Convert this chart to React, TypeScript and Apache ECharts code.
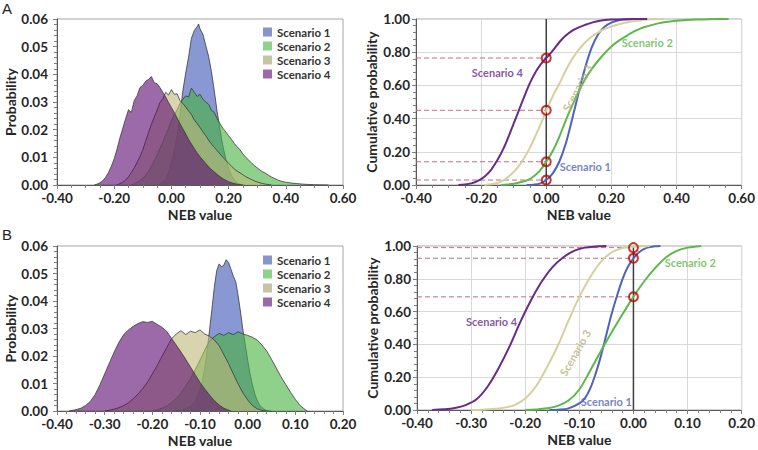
import React, { useEffect, useRef } from "react";
import * as echarts from "echarts";

const FONT = 'Lato, "Open Sans", "DejaVu Sans", sans-serif';
const scenarioNames = ["Scenario 1", "Scenario 2", "Scenario 3", "Scenario 4"];
const fillColors = ["rgba(58,84,180,0.6)", "rgba(68,178,60,0.6)", "rgba(188,183,120,0.6)", "rgba(90,7,110,0.6)"];
const legendColors = ["#8795c9", "#8fd18a", "#c6c3a7", "#9c6aa8"];
const lineColors = ["#4f63b8", "#5cb84a", "#d5d09c", "#6a2a86"];

// ---------- Panel A : probability (NEB value, probability) ----------
const aDens1: number[][] = [[-0.05,0],[-0.04,0.0004],[-0.03,0.0012],[-0.02,0.0022],[-0.01,0.0045],[0,0.008],[0.01,0.012],[0.02,0.0175],[0.03,0.025],[0.04,0.034],[0.05,0.0405],[0.06,0.0462],[0.07,0.053],[0.08,0.0558],[0.09,0.0572],[0.095,0.0582],[0.10,0.0565],[0.11,0.0545],[0.12,0.0505],[0.13,0.0465],[0.14,0.041],[0.15,0.034],[0.16,0.0265],[0.17,0.02],[0.18,0.014],[0.19,0.0095],[0.20,0.006],[0.21,0.0035],[0.22,0.0018],[0.23,0.0008],[0.24,0.0003],[0.26,0]];
const aDens2: number[][] = [[-0.14,0],[-0.13,0.0004],[-0.12,0.001],[-0.11,0.0016],[-0.10,0.0024],[-0.09,0.0035],[-0.08,0.005],[-0.07,0.0068],[-0.06,0.0088],[-0.05,0.0108],[-0.04,0.0132],[-0.03,0.0155],[-0.02,0.0182],[-0.01,0.0205],[0,0.0232],[0.01,0.0255],[0.02,0.0272],[0.03,0.0295],[0.04,0.031],[0.05,0.0322],[0.06,0.0318],[0.07,0.035],[0.08,0.0335],[0.09,0.032],[0.10,0.0328],[0.11,0.031],[0.12,0.03],[0.13,0.0292],[0.14,0.027],[0.15,0.0262],[0.16,0.024],[0.17,0.0222],[0.18,0.0205],[0.19,0.0192],[0.20,0.0178],[0.21,0.0165],[0.22,0.015],[0.23,0.0138],[0.24,0.0127],[0.25,0.0112],[0.26,0.01],[0.27,0.009],[0.28,0.008],[0.29,0.007],[0.30,0.0062],[0.31,0.0054],[0.32,0.0047],[0.33,0.0042],[0.34,0.0035],[0.35,0.0029],[0.36,0.0024],[0.37,0.0019],[0.38,0.0015],[0.39,0.0012],[0.40,0.001],[0.42,0.0007],[0.44,0.0005],[0.46,0.0003],[0.48,0.0002],[0.50,0.0001],[0.55,0]];
const aDens3: number[][] = [[-0.19,0],[-0.18,0.0005],[-0.17,0.001],[-0.16,0.0018],[-0.15,0.003],[-0.14,0.0045],[-0.13,0.0062],[-0.12,0.0082],[-0.11,0.0102],[-0.10,0.0128],[-0.09,0.0158],[-0.08,0.019],[-0.07,0.022],[-0.06,0.0245],[-0.05,0.027],[-0.04,0.0298],[-0.03,0.0312],[-0.02,0.0335],[-0.01,0.0325],[0,0.0345],[0.01,0.0328],[0.02,0.033],[0.03,0.0305],[0.04,0.0295],[0.05,0.0282],[0.06,0.0268],[0.07,0.0255],[0.08,0.0235],[0.09,0.0222],[0.10,0.0208],[0.11,0.0192],[0.12,0.0178],[0.13,0.0162],[0.14,0.0148],[0.15,0.0136],[0.16,0.0124],[0.17,0.0112],[0.18,0.01],[0.19,0.009],[0.20,0.0078],[0.21,0.0068],[0.22,0.0058],[0.23,0.005],[0.24,0.0044],[0.25,0.0037],[0.26,0.003],[0.27,0.0025],[0.28,0.002],[0.29,0.0015],[0.30,0.0011],[0.31,0.0008],[0.32,0.0005],[0.33,0.0003],[0.35,0]];
const aDens4: number[][] = [[-0.27,0],[-0.26,0.0003],[-0.25,0.0008],[-0.24,0.0015],[-0.23,0.0028],[-0.22,0.0045],[-0.21,0.0068],[-0.20,0.0095],[-0.19,0.013],[-0.18,0.017],[-0.17,0.0205],[-0.16,0.024],[-0.15,0.0272],[-0.14,0.0262],[-0.13,0.0305],[-0.12,0.0322],[-0.11,0.0352],[-0.10,0.036],[-0.09,0.0375],[-0.08,0.0382],[-0.07,0.0392],[-0.06,0.037],[-0.05,0.0366],[-0.04,0.0352],[-0.03,0.0335],[-0.02,0.0318],[-0.01,0.0298],[0,0.028],[0.01,0.0262],[0.02,0.0242],[0.03,0.0222],[0.04,0.0203],[0.05,0.0185],[0.06,0.0165],[0.07,0.0148],[0.08,0.0132],[0.09,0.0116],[0.10,0.0102],[0.11,0.009],[0.12,0.0078],[0.13,0.0066],[0.14,0.0056],[0.15,0.0047],[0.16,0.0038],[0.17,0.003],[0.18,0.0023],[0.19,0.0017],[0.20,0.0012],[0.21,0.0008],[0.22,0.0005],[0.23,0.0003],[0.25,0]];

// ---------- Panel A : cumulative probability ----------
const aCdf1: number[][] = [[-0.06,0],[-0.04,0.002],[-0.02,0.008],[0,0.03],[0.02,0.07],[0.04,0.14],[0.06,0.25],[0.08,0.4],[0.10,0.56],[0.12,0.71],[0.14,0.83],[0.16,0.91],[0.18,0.955],[0.20,0.978],[0.22,0.991],[0.24,0.997],[0.28,1],[0.30,1]];
const aCdf2: number[][] = [[-0.14,0],[-0.12,0.003],[-0.10,0.008],[-0.08,0.016],[-0.06,0.028],[-0.04,0.05],[-0.02,0.085],[0,0.14],[0.02,0.205],[0.04,0.29],[0.06,0.39],[0.08,0.48],[0.10,0.565],[0.12,0.64],[0.14,0.7],[0.16,0.75],[0.18,0.795],[0.20,0.835],[0.22,0.865],[0.24,0.89],[0.26,0.915],[0.28,0.935],[0.30,0.95],[0.34,0.972],[0.38,0.985],[0.42,0.993],[0.46,0.997],[0.50,0.999],[0.56,1]];
const aCdf3: number[][] = [[-0.19,0],[-0.17,0.004],[-0.15,0.012],[-0.13,0.03],[-0.11,0.06],[-0.09,0.1],[-0.07,0.155],[-0.05,0.225],[-0.03,0.31],[-0.01,0.4],[0,0.45],[0.02,0.535],[0.04,0.61],[0.06,0.69],[0.08,0.76],[0.10,0.815],[0.12,0.86],[0.14,0.895],[0.16,0.92],[0.18,0.94],[0.20,0.955],[0.24,0.977],[0.28,0.99],[0.32,0.998],[0.36,1]];
const aCdf4: number[][] = [[-0.27,0],[-0.25,0.003],[-0.23,0.01],[-0.21,0.025],[-0.19,0.05],[-0.17,0.09],[-0.15,0.15],[-0.13,0.225],[-0.11,0.32],[-0.09,0.42],[-0.07,0.52],[-0.05,0.615],[-0.03,0.69],[-0.01,0.745],[0,0.765],[0.02,0.81],[0.04,0.86],[0.06,0.9],[0.08,0.93],[0.10,0.95],[0.12,0.965],[0.14,0.978],[0.16,0.988],[0.18,0.994],[0.20,0.997],[0.24,0.999],[0.31,1]];
const aMarkers = [0.765, 0.45, 0.14, 0.03];
const aLabels = [
  { name: "Scenario 4", x: -0.15, y: 0.675, rot: 0, color: "#6a2a86" },
  { name: "Scenario 3", x: 0.095, y: 0.585, rot: 62, color: "#b5b07a" },
  { name: "Scenario 2", x: 0.31, y: 0.86, rot: 0, color: "#5cb84a" },
  { name: "Scenario 1", x: 0.12, y: 0.11, rot: 0, color: "#4f63b8" },
];

// ---------- Panel B : probability ----------
const bDens1: number[][] = [[-0.15,0],[-0.14,0.0003],[-0.13,0.0008],[-0.12,0.0016],[-0.11,0.0035],[-0.10,0.0075],[-0.095,0.011],[-0.09,0.0155],[-0.085,0.022],[-0.08,0.0295],[-0.075,0.037],[-0.07,0.045],[-0.065,0.051],[-0.06,0.0535],[-0.055,0.0525],[-0.05,0.053],[-0.045,0.055],[-0.04,0.054],[-0.035,0.0515],[-0.03,0.049],[-0.025,0.047],[-0.02,0.042],[-0.015,0.036],[-0.01,0.0295],[-0.005,0.024],[0,0.0185],[0.005,0.0135],[0.01,0.0095],[0.015,0.0062],[0.02,0.0038],[0.025,0.0022],[0.03,0.0012],[0.035,0.0006],[0.04,0.0002],[0.05,0]];
const bDens2: number[][] = [[-0.20,0],[-0.19,0.0004],[-0.18,0.001],[-0.17,0.0018],[-0.16,0.003],[-0.15,0.0045],[-0.14,0.0065],[-0.13,0.009],[-0.12,0.0118],[-0.11,0.015],[-0.10,0.0185],[-0.09,0.0222],[-0.08,0.0255],[-0.07,0.027],[-0.06,0.0282],[-0.05,0.0275],[-0.04,0.0285],[-0.03,0.0278],[-0.02,0.0288],[-0.01,0.028],[0,0.0275],[0.01,0.0268],[0.02,0.0258],[0.03,0.024],[0.04,0.0218],[0.05,0.0188],[0.06,0.0156],[0.07,0.0124],[0.08,0.0096],[0.09,0.0068],[0.10,0.0042],[0.11,0.002],[0.12,0.0006],[0.125,0]];
const bDens3: number[][] = [[-0.30,0],[-0.29,0.0003],[-0.28,0.0007],[-0.27,0.0012],[-0.26,0.002],[-0.25,0.003],[-0.24,0.0045],[-0.23,0.0062],[-0.22,0.0082],[-0.21,0.0105],[-0.20,0.0135],[-0.19,0.0165],[-0.18,0.0198],[-0.17,0.023],[-0.16,0.0262],[-0.15,0.028],[-0.14,0.0292],[-0.13,0.0278],[-0.12,0.029],[-0.11,0.0285],[-0.10,0.0295],[-0.09,0.028],[-0.08,0.0272],[-0.07,0.0258],[-0.06,0.0238],[-0.05,0.0205],[-0.04,0.0172],[-0.03,0.0135],[-0.02,0.0098],[-0.01,0.0066],[0,0.004],[0.01,0.002],[0.02,0.0008],[0.03,0.0002],[0.04,0]];
const bDens4: number[][] = [[-0.375,0],[-0.36,0.0005],[-0.35,0.001],[-0.34,0.002],[-0.33,0.0035],[-0.32,0.006],[-0.31,0.0095],[-0.30,0.0135],[-0.29,0.0175],[-0.28,0.0215],[-0.27,0.025],[-0.26,0.0278],[-0.25,0.0295],[-0.24,0.0308],[-0.23,0.0318],[-0.22,0.0325],[-0.21,0.0322],[-0.20,0.0326],[-0.19,0.0315],[-0.18,0.0305],[-0.17,0.029],[-0.16,0.0265],[-0.15,0.024],[-0.14,0.0215],[-0.13,0.0188],[-0.12,0.016],[-0.11,0.0132],[-0.10,0.0104],[-0.09,0.008],[-0.08,0.0058],[-0.07,0.0038],[-0.06,0.0022],[-0.05,0.001],[-0.04,0.0003],[-0.035,0]];

// ---------- Panel B : cumulative probability ----------
const bCdf1: number[][] = [[-0.155,0],[-0.14,0.002],[-0.12,0.01],[-0.10,0.04],[-0.09,0.07],[-0.08,0.13],[-0.07,0.22],[-0.06,0.33],[-0.05,0.46],[-0.04,0.59],[-0.03,0.7],[-0.02,0.8],[-0.01,0.875],[0,0.925],[0.01,0.96],[0.02,0.982],[0.03,0.993],[0.04,0.998],[0.05,1]];
const bCdf2: number[][] = [[-0.20,0],[-0.18,0.003],[-0.16,0.01],[-0.14,0.025],[-0.12,0.058],[-0.10,0.125],[-0.08,0.24],[-0.06,0.36],[-0.04,0.475],[-0.02,0.585],[0,0.69],[0.02,0.785],[0.04,0.865],[0.06,0.93],[0.08,0.97],[0.10,0.99],[0.12,0.998],[0.125,1]];
const bCdf3: number[][] = [[-0.30,0],[-0.28,0.002],[-0.26,0.006],[-0.24,0.014],[-0.22,0.03],[-0.20,0.07],[-0.18,0.145],[-0.16,0.26],[-0.14,0.39],[-0.12,0.545],[-0.10,0.69],[-0.08,0.81],[-0.06,0.905],[-0.04,0.962],[-0.02,0.988],[0,0.996],[0.02,0.999],[0.03,1]];
const bCdf4: number[][] = [[-0.372,0],[-0.35,0.004],[-0.33,0.012],[-0.31,0.03],[-0.29,0.065],[-0.27,0.14],[-0.25,0.25],[-0.23,0.38],[-0.21,0.53],[-0.19,0.665],[-0.17,0.78],[-0.15,0.87],[-0.13,0.93],[-0.11,0.97],[-0.09,0.99],[-0.07,0.997],[-0.05,1]];
const bMarkers = [0.99, 0.925, 0.69];
const bLabels = [
  { name: "Scenario 4", x: -0.262, y: 0.537, rot: 0, color: "#6a2a86" },
  { name: "Scenario 3", x: -0.108, y: 0.35, rot: 60, color: "#b5b07a" },
  { name: "Scenario 2", x: 0.105, y: 0.9, rot: 0, color: "#5cb84a" },
  { name: "Scenario 1", x: -0.05, y: 0.05, rot: 0, color: "#4f63b8" },
];

const fmt2 = (v: number) => (Math.abs(v) < 1e-9 ? "0.00" : v.toFixed(2));

const tickText = { fontFamily: FONT, fontWeight: "bold" as const, fontSize: 13.5, color: "#262626" };
const nameText = { fontFamily: FONT, fontWeight: "bold" as const, fontSize: 14, color: "#262626" };

function makeX(gi: number, min: number, max: number, interval: number, minorSplit: number, split: boolean) {
  return {
    type: "value", gridIndex: gi, min, max, interval,
    name: "NEB value", nameLocation: "middle", nameGap: 22, nameTextStyle: nameText,
    axisLine: { show: true, onZero: false, lineStyle: { color: "#595959", width: 1 } },
    axisTick: { show: true, length: 4, lineStyle: { color: "#7f7f7f" } },
    minorTick: { show: true, splitNumber: minorSplit, length: 3, lineStyle: { color: "#7f7f7f" } },
    axisLabel: { ...tickText, margin: 6, formatter: fmt2 },
    splitLine: { show: split, lineStyle: { color: "#d9d9d9", width: 1 } },
  };
}
function makeY(gi: number, max: number, interval: number, name: string, gap: number, margin: number, split: boolean) {
  return {
    type: "value", gridIndex: gi, min: 0, max, interval,
    name, nameLocation: "middle", nameGap: gap, nameRotate: 90, nameTextStyle: nameText,
    axisLine: { show: true, onZero: false, lineStyle: { color: "#595959", width: 1 } },
    axisTick: { show: true, length: 4, lineStyle: { color: "#7f7f7f" } },
    minorTick: { show: true, splitNumber: 5, length: 3, lineStyle: { color: "#7f7f7f" } },
    axisLabel: { ...tickText, margin, formatter: fmt2 },
    splitLine: { show: split, lineStyle: { color: "#d9d9d9", width: 1 } },
  };
}

function densSeries(gi: number, sets: number[][][]) {
  return sets.map((d, i) => ({
    type: "line", name: scenarioNames[i], xAxisIndex: gi, yAxisIndex: gi, data: d,
    symbol: "none", smooth: false, z: 2 + i,
    lineStyle: { color: "#3a3a3a", width: 0.8 },
    itemStyle: { color: legendColors[i] },
    areaStyle: { color: fillColors[i], opacity: 1 },
  }));
}

function cdfSeries(gi: number, sets: number[][][], markers: number[], labels: any[], xmin: number) {
  const out: any[] = [];
  markers.forEach((m, k) => {
    out.push({
      type: "line", name: "guide" + gi + "_" + k, xAxisIndex: gi, yAxisIndex: gi,
      data: [[xmin, m], [0, m]], symbol: "none", z: 2,
      lineStyle: { color: "#c76b7b", width: 1, type: [5, 3] },
    });
  });
  out.push({
    type: "line", name: "zero" + gi, xAxisIndex: gi, yAxisIndex: gi,
    data: [[0, 0], [0, 1]], symbol: "none", z: 3,
    lineStyle: { color: "#3f3f3f", width: 1.5 },
  });
  sets.forEach((d, i) => {
    out.push({
      type: "line", name: "cdf" + gi + "_" + i, xAxisIndex: gi, yAxisIndex: gi, data: d,
      symbol: "none", smooth: 0.35, z: 4,
      lineStyle: { color: lineColors[i], width: 2 },
    });
  });
  out.push({
    type: "scatter", name: "mark" + gi, xAxisIndex: gi, yAxisIndex: gi,
    data: markers.map((m) => [0, m]), symbol: "circle", symbolSize: 9, z: 6,
    itemStyle: { color: "rgba(255,255,255,0)", borderColor: "#c00000", borderWidth: 2 },
  });
  out.push({
    type: "scatter", name: "lab" + gi, xAxisIndex: gi, yAxisIndex: gi, symbolSize: 0, z: 7,
    data: labels.map((l) => ({
      value: [l.x, l.y], name: l.name,
      label: { show: true, position: [0, 0], align: "center", verticalAlign: "middle", formatter: l.name, rotate: l.rot, color: l.color, fontFamily: FONT, fontWeight: "bold", fontSize: 11 },
    })),
    itemStyle: { color: "rgba(0,0,0,0)" },
  });
  return out;
}

function makeLegend(top: number) {
  return {
    orient: "vertical", left: 258, top, icon: "rect", itemWidth: 9, itemHeight: 9, itemGap: 2,
    selectedMode: false,
    textStyle: { fontFamily: FONT, fontWeight: "bold", fontSize: 11.5, color: "#333" },
    data: scenarioNames.map((n, i) => ({ name: n, itemStyle: { color: legendColors[i] } })),
  };
}

export default function App() {
  const ref = useRef<HTMLDivElement>(null);
  useEffect(() => {
    if (!ref.current) return;
    const chart = echarts.init(ref.current, undefined, { renderer: "svg" });
    const gridBase = { show: true, borderColor: "#a6a6a6", borderWidth: 1, backgroundColor: "transparent" };
    chart.setOption({
      animation: false,
      textStyle: { fontFamily: FONT },
      grid: [
        { ...gridBase, left: 57, top: 19, width: 286, height: 166 },
        { ...gridBase, left: 416, top: 19, width: 328, height: 166 },
        { ...gridBase, left: 57, top: 246, width: 286, height: 165 },
        { ...gridBase, left: 417, top: 246, width: 327, height: 164 },
      ],
      xAxis: [
        makeX(0, -0.4, 0.6, 0.2, 4, false),
        makeX(1, -0.4, 0.6, 0.2, 4, true),
        makeX(2, -0.4, 0.2, 0.1, 5, false),
        makeX(3, -0.4, 0.2, 0.1, 5, true),
      ],
      yAxis: [
        makeY(0, 0.06, 0.01, "Probability", 38, 9, false),
        makeY(1, 1, 0.2, "Cumulative probability", 38, 6, true),
        makeY(2, 0.06, 0.01, "Probability", 38, 9, false),
        makeY(3, 1, 0.2, "Cumulative probability", 38, 6, true),
      ],
      legend: [makeLegend(21), makeLegend(249)],
      series: [
        ...densSeries(0, [aDens1, aDens2, aDens3, aDens4]),
        ...cdfSeries(1, [aCdf1, aCdf2, aCdf3, aCdf4], aMarkers, aLabels, -0.4),
        ...densSeries(2, [bDens1, bDens2, bDens3, bDens4]),
        ...cdfSeries(3, [bCdf1, bCdf2, bCdf3, bCdf4], bMarkers, bLabels, -0.4),
      ],
      graphic: [
        { type: "text", left: 2, top: 1, style: { text: "A", font: '15px "Liberation Sans", Arial, sans-serif', fill: "#222" } },
        { type: "text", left: 2, top: 227, style: { text: "B", font: '15px "Liberation Sans", Arial, sans-serif', fill: "#222" } },
      ],
    });
    return () => chart.dispose();
  }, []);
  return <div ref={ref} style={{ position: "fixed", left: 0, top: 0, width: 758, height: 450, background: "#fff" }} />;
}
